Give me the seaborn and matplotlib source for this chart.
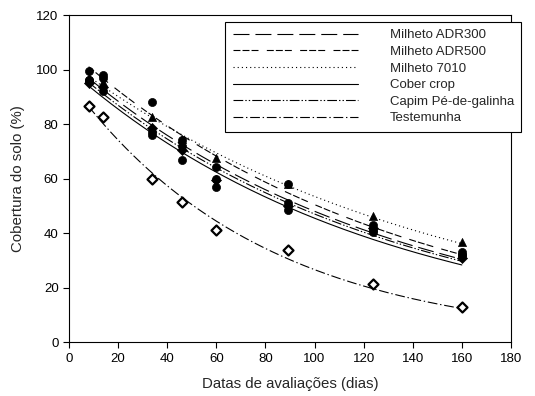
import numpy as np
import pandas as pd
import matplotlib
matplotlib.use("Agg")
import matplotlib.pyplot as plt
import seaborn as sns
from matplotlib.lines import Line2D

# dias de avaliacao
dias = [8, 14, 34, 46, 60, 89, 124, 160]

# cobertura do solo (%) por tratamento
adr300 = [96, 98, 77, 72, 60, 51, 43, 33]
adr500 = [99.4, 97, 88, 74, 64.3, 58, 41, 32]
m7010 = [97, 95.5, 82.7, 74.5, 67.6, 58.2, 46.2, 36.6]
cober = [96, 92, 76, 67, 57, 48.5, 40.5, 32]
capim = [95, 93.5, 78.5, 70.5, 59.4, 50, 42, 31]
testemunha = [86.7, 82.5, 60, 51.5, 41, 33.8, 21.5, 12.8]

nomes = ["Milheto ADR300", "Milheto ADR500", "Milheto 7010",
         "Cober crop", "Capim Pé-de-galinha", "Testemunha"]
valores = [adr300, adr500, m7010, cober, capim, testemunha]

estilos = [
    (0, (11.5, 4.3)),
    (0, (5, 1.5, 5, 1.5, 5, 6)),
    (0, (0.8, 2.2)),
    "-",
    (0, (7, 1.5, 1, 1.5, 1, 1.5)),
    (0, (7, 2, 1, 2)),
]
marcadores = ["o", "o", "^", "o", "D", "D"]


def ajuste_exp(x, y):
    # minimos quadrados nao linear para y = a*exp(-k*x), busca em k
    x = np.asarray(x, float)
    y = np.asarray(y, float)
    melhor = None
    for k in np.linspace(0.001, 0.05, 5000):
        e = np.exp(-k * x)
        a = (y * e).sum() / (e * e).sum()
        sse = ((y - a * e) ** 2).sum()
        if melhor is None or sse < melhor[0]:
            melhor = (sse, a, k)
    return melhor[1], melhor[2]


sns.set_style("ticks")
plt.rcParams["font.family"] = ["Liberation Sans", "DejaVu Sans"]
plt.rcParams["lines.scale_dashes"] = False

fig = plt.figure(figsize=(5.35, 3.96), dpi=100)
ax = fig.add_axes([0.129, 0.136, 0.826, 0.826])

xfit = np.linspace(8, 160, 200)
handles = []
for nome, y, ls, mk in zip(nomes, valores, estilos, marcadores):
    a, k = ajuste_exp(dias, y)
    yfit = a * np.exp(-k * xfit)
    sns.lineplot(x=xfit, y=yfit, ax=ax, color="black", linewidth=0.8,
                 linestyle=ls, legend=False)
    aberto = nome == "Testemunha"
    sns.scatterplot(x=dias, y=y, ax=ax, marker=mk,
                    s=34 if mk != "D" else 26,
                    facecolor="white" if aberto else "black",
                    edgecolor="black", linewidth=1.6 if aberto else 0.5,
                    zorder=3, legend=False)
    handles.append(Line2D([], [], color="black", linewidth=0.8,
                          linestyle=ls, label=nome))

ax.set_xlim(0, 180)
ax.set_ylim(0, 120)
ax.set_xticks(range(0, 181, 20))
ax.set_yticks(range(0, 121, 20))
ax.tick_params(direction="out", length=4, width=0.8, labelsize=9.5,
               colors="black")
for s in ax.spines.values():
    s.set_visible(True)
    s.set_linewidth(0.8)
    s.set_color("black")

ax.set_xlabel("Datas de avaliações (dias)", fontsize=10.8, labelpad=9)
ax.set_ylabel("Cobertura do solo (%)", fontsize=10.8, labelpad=8)

leg = ax.legend(handles=handles, loc="upper right",
                bbox_to_anchor=(1.023, 0.979), fontsize=9.5,
                handlelength=9.5, handletextpad=2.4, labelspacing=0.33,
                borderpad=0.55, borderaxespad=0, fancybox=False,
                framealpha=1, edgecolor="black")
leg.get_frame().set_linewidth(0.8)

fig.savefig("out.png", dpi=100)
